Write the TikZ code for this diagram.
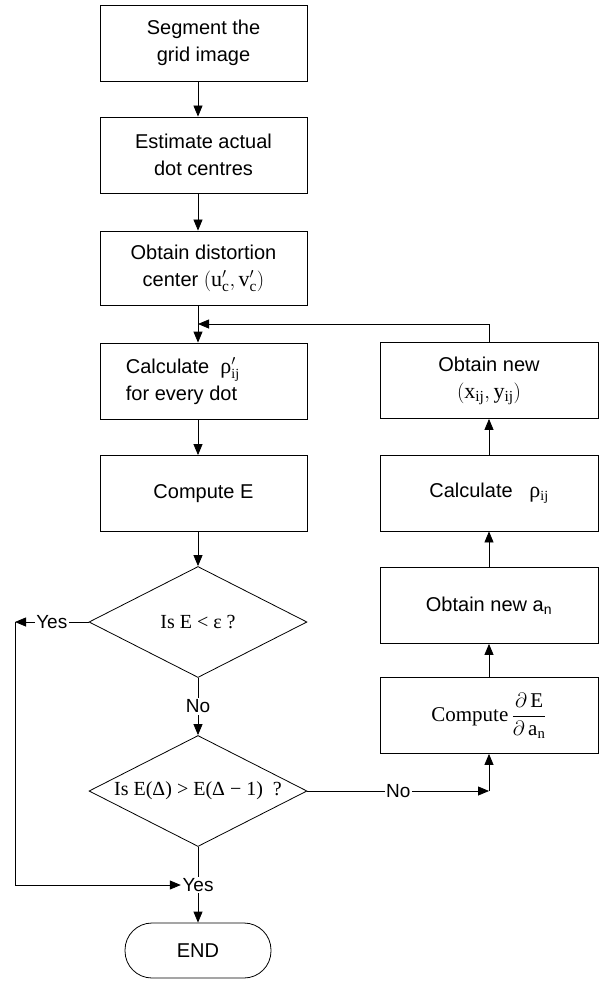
\documentclass[tikz,border=0pt]{standalone}
\usepackage{fontspec}
\setmainfont{Liberation Sans}
\setmathrm{Liberation Serif}
\newfontfamily\serif{Liberation Serif}
\usetikzlibrary{arrows.meta,shapes.geometric}
\begin{document}
\begin{tikzpicture}[x=1pt,y=-1pt,
  every node/.style={font=\fontsize{20}{27}\selectfont},
  box/.style={draw, line width=0.8pt, minimum width=207pt, minimum height=76pt, align=center, inner sep=0pt},
  rbox/.style={box, minimum width=218pt},
  dec/.style={draw, diamond, line width=0.8pt, minimum width=218pt, minimum height=111pt, inner sep=0pt},
  dectext/.style={font=\fontsize{20}{26}\serif, inner sep=0pt},
  term/.style={draw, line width=0.8pt, rounded corners=27pt, minimum width=146pt, minimum height=55pt},
  lbl/.style={fill=white, inner sep=1.5pt, font=\fontsize{19}{22}\selectfont},
  line/.style={line width=0.8pt},
  arr/.style={line, -{Triangle[length=11pt,width=9pt]}}]
\useasboundingbox (0,0) rectangle (607,984);
\coordinate (cx) at (198,0);
% left column
\node[box] (b1) at (203.5,43) {Segment the\\grid image};
\node[box] (b2) at (203.5,155) {Estimate actual\\dot centres};
\node[box, minimum height=74pt] (b3) at (203.5,268) {Obtain distortion\\center {\fontsize{22}{27}\selectfont$(\mathrm{u}'_{\mathrm{c}},\mathrm{v}'_{\mathrm{c}})$}};
\node[box, align=left] (b4) at (203.5,381) {Calculate \ {\serif\fontsize{22}{27}\selectfont ρ}$'_{\mathrm{ij}}$\\for every dot\hspace*{2.2em}};
\node[box] (b5) at (203.5,493.5) {Compute E};
\node[dec, label={[dectext]center:Is E < ε ?}] (d1) at (198,622) {};
\node[dec, label={[dectext]center:Is E(Δ) > E(Δ − 1)\ \ ?}] (d2) at (198,791) {};
\node[lbl] (yes2) at (198,885) {Yes};
\node[term] (end) at (198,950.5) {END};
% right column
\node[rbox] (r1) at (489,380.5) {Obtain new\\{\fontsize{22}{27}\selectfont$(\mathrm{x}_{\mathrm{ij}},\mathrm{y}_{\mathrm{ij}})$}};
\node[rbox] (r2) at (489,493) {Calculate \ \ {\serif\fontsize{22}{27}\selectfont ρ}$_{\mathrm{ij}}$};
\node[rbox] (r3) at (489,605.5) {Obtain new a\textsubscript{n}};
\node[rbox] (r4) at (489,715.5) {{\serif\fontsize{21}{26}\selectfont Compute}\,{\fontsize{21}{26}\selectfont$\displaystyle\frac{\partial\,\mathrm{E}}{\partial\,\mathrm{a}_{\mathrm{n}}}$}};
% helper coordinates
\coordinate (merge) at (198,324);
\coordinate (lc) at (15,622);
\coordinate (lb) at (15,885);
\coordinate (nr) at (489,791);
% connectors
\draw[arr] (b1.south -| cx) -- (b2.north -| cx);
\draw[arr] (b2.south -| cx) -- (b3.north -| cx);
\draw[line] (b3.south -| cx) -- (merge);
\draw[arr] (merge) -- (b4.north -| cx);
\draw[arr] (b4.south -| cx) -- (b5.north -| cx);
\draw[arr] (b5.south -| cx) -- (d1.north);
\draw[arr] (d1.south) -- node[lbl]{No} (d2.north);
\draw[arr] (d1.west) -- node[lbl]{Yes} (lc);
\draw[line] (lc) -- (lb);
\draw[arr] (lb) -- (yes2.west);
\draw[line] (d2.south) -- (yes2.north);
\draw[arr] (yes2.south) -- (end.north);
\draw[arr] (d2.east) -- node[lbl]{No} (nr);
\draw[arr] (nr) -- (r4.south);
\draw[arr] (r4.north) -- (r3.south);
\draw[arr] (r3.north) -- (r2.south);
\draw[arr] (r2.north) -- (r1.south);
\draw[arr] (r1.north) |- (merge);
\end{tikzpicture}
\end{document}
